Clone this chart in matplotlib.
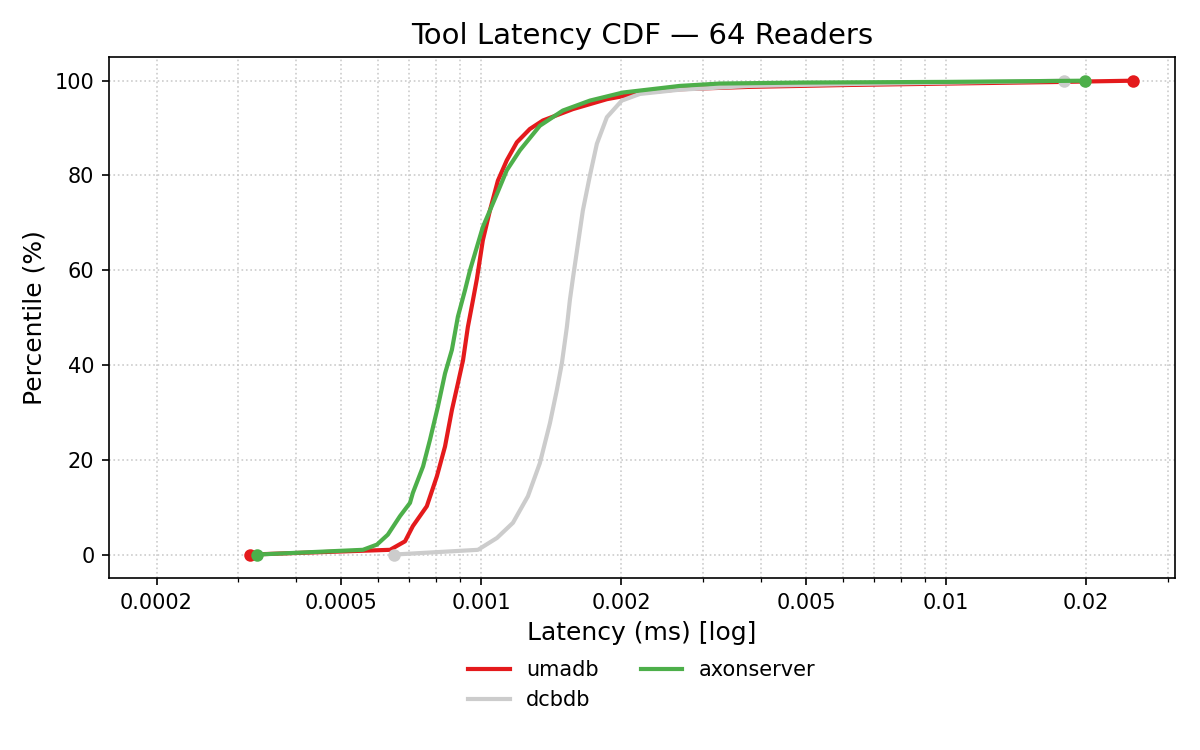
import matplotlib
matplotlib.use('Agg')
import matplotlib.pyplot as plt
from matplotlib.ticker import FixedLocator, FuncFormatter, LogLocator, NullFormatter

# percentile (%) vs latency (ms)
umadb_ms = [0.000318, 0.000636, 0.000685, 0.000712, 0.000763, 0.000802, 0.000835, 0.000864,
            0.000890, 0.000913, 0.000935, 0.000959, 0.000978, 0.001007, 0.001043, 0.001085,
            0.001134, 0.001192, 0.001271, 0.001356, 0.001573, 0.001862, 0.002192, 0.002673,
            0.00378, 0.0062, 0.01017, 0.0167, 0.02518]
umadb_pct = [0, 1.0, 2.8, 6.0, 10.2, 16.5, 22.8, 30.5,
             36.1, 41.0, 48.0, 53.7, 58.2, 66.3, 72.6, 78.9,
             83.2, 87.0, 89.8, 91.6, 94.0, 96.1, 97.4, 98.2,
             98.7, 99.1, 99.4, 99.7, 100]

dcbdb_ms = [0.000648, 0.000983, 0.00108, 0.001169, 0.001259, 0.001336, 0.001404, 0.001453,
            0.00149, 0.001527, 0.00155, 0.001573, 0.001653, 0.001712, 0.001772, 0.001862,
            0.002005, 0.002192, 0.002673, 0.00378, 0.0062, 0.01017, 0.01789]
dcbdb_pct = [0, 1.0, 3.5, 6.7, 12.3, 19.3, 27.7, 34.7,
             40.4, 48.0, 53.7, 58.2, 72.6, 80.0, 86.7, 92.3,
             95.8, 97.2, 98.1, 98.9, 99.3, 99.6, 100]

axon_ms = [0.000329, 0.000556, 0.000596, 0.000629, 0.000668, 0.000702, 0.000712, 0.000749,
           0.000775, 0.000806, 0.000835, 0.000864, 0.000890, 0.000922, 0.000945, 0.001007,
           0.00108, 0.001134, 0.00121, 0.001336, 0.001497, 0.001712, 0.002015, 0.002673,
           0.00326, 0.00484, 0.01017, 0.01986]
axon_pct = [0, 1.0, 2.1, 4.2, 8.1, 10.9, 13.0, 18.6,
            24.2, 31.2, 38.2, 43.2, 50.2, 55.8, 60.0, 69.1,
            76.1, 81.1, 85.3, 90.5, 93.7, 95.8, 97.5, 98.9,
            99.4, 99.6, 99.75, 100]

series = [('umadb', umadb_ms, umadb_pct, '#e41a1c'),
          ('dcbdb', dcbdb_ms, dcbdb_pct, '#cccccc'),
          ('axonserver', axon_ms, axon_pct, '#4daf4a')]

major_ticks = [0.0002, 0.0005, 0.001, 0.002, 0.005, 0.01, 0.02]

fig = plt.figure(figsize=(8, 5), dpi=150)
ax = fig.add_axes([0.0908, 0.229, 0.888, 0.695])

for name, xs, ys, c in series:
    ax.plot(xs, ys, color=c, lw=2.0, label=name)
    ax.plot([xs[0], xs[-1]], [ys[0], ys[-1]], 'o', color=c, ms=5)

ax.set_xscale('log')
ax.set_xlim(0.000158, 0.031)
ax.set_ylim(-5, 105)
ax.xaxis.set_major_locator(FixedLocator(major_ticks))
ax.xaxis.set_major_formatter(FuncFormatter(lambda v, p: '%g' % v))
ax.xaxis.set_minor_locator(LogLocator(base=10, subs=[3, 4, 6, 7, 8, 9]))
ax.xaxis.set_minor_formatter(NullFormatter())
ax.set_yticks([0, 20, 40, 60, 80, 100])
ax.grid(True, which='both', ls=':', color='#cccccc', lw=0.8)
ax.set_axisbelow(True)

ax.set_title('Tool Latency CDF — 64 Readers', fontsize=14)
ax.set_xlabel('Latency (ms) [log]', fontsize=12)
ax.set_ylabel('Percentile (%)', fontsize=12)

ax.legend(loc='upper center', bbox_to_anchor=(0.5, -0.121), ncol=2, frameon=False,
          fontsize=10)

fig.savefig('out.png', dpi=150)
